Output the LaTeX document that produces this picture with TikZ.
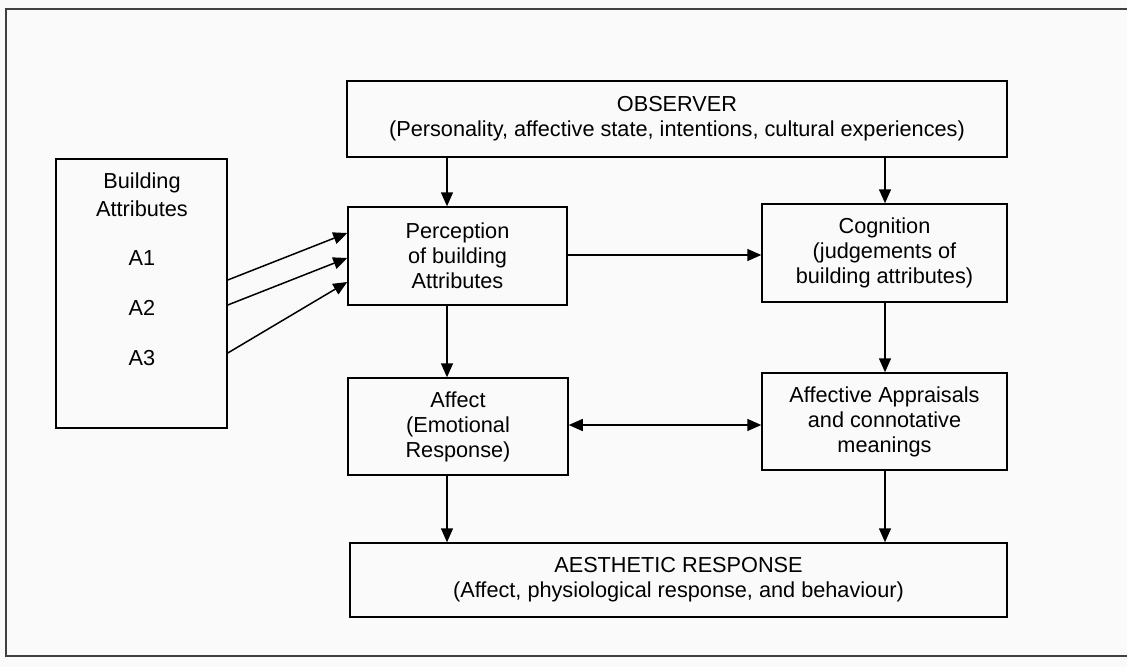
\documentclass[tikz,border=0pt]{standalone}
\usepackage{fontspec}
\setmainfont{Liberation Sans}
\usetikzlibrary{arrows.meta}
\tikzset{
  box/.style={draw, line width=1.5pt, rectangle, align=center, inner sep=0pt,
    font=\fontsize{21.7}{25}\selectfont},
  lbl/.style={inner sep=0pt, font=\fontsize{21.7}{25}\selectfont},
  arr/.style={line width=1.5pt, -{Triangle[length=14pt,width=12pt]}},
  biarr/.style={line width=1.5pt, {Triangle[length=14pt,width=12pt]}-{Triangle[length=14pt,width=12pt]}},
  frame/.style={line width=1.1pt, draw=black!75}
}
\begin{document}
\begin{tikzpicture}[x=1pt, y=-1pt]
\useasboundingbox[fill=black!2] (0,0) rectangle (1127,667);
% outer frame (open on the right)
\draw[frame] (1127,9) -- (6,9) -- (6,656) -- (1127,656);

% boxes
\node[box, minimum width=660pt, minimum height=76pt] (obs) at (677,119)
  {OBSERVER\\(Personality, affective state, intentions, cultural experiences)};
\node[box, minimum width=219pt, minimum height=98pt] (perc) at (457.5,256)
  {Perception\\of building\\Attributes};
\node[box, minimum width=245pt, minimum height=98pt] (cog) at (884.5,253)
  {Cognition\\(judgements of\\building attributes)};
\node[box, minimum width=220pt, minimum height=97pt] (aff) at (458,426.5)
  {Affect\\(Emotional\\Response)};
\node[box, minimum width=245pt, minimum height=97pt] (app) at (884.5,421.5)
  {Affective Appraisals\\and connotative\\meanings};
\node[box, minimum width=657pt, minimum height=74pt] (aes) at (678.5,580)
  {AESTHETIC RESPONSE\\(Affect, physiological response, and behaviour)};
\node[box, minimum width=171pt, minimum height=269pt] (bld) at (141.5,293.5) {};

% labels inside the building box
\node[lbl] (bt1) at (142,183) {Building};
\node[lbl] (bt2) at (142,209) {Attributes};
\node[lbl] (a1) at (142,258) {A1};
\node[lbl] (a2) at (142,308) {A2};
\node[lbl] (a3) at (142,358) {A3};

% connectors
\draw[arr] (obs.south -| 447,0) -- (perc.north -| 447,0);
\draw[arr] (obs.south -| 885,0) -- (cog.north -| 885,0);
\draw[arr] (perc.east |- 0,255) -- (cog.west |- 0,255);
\draw[arr] (perc.south -| 447,0) -- (aff.north -| 447,0);
\draw[arr] (cog.south -| 885,0) -- (app.north -| 885,0);
\draw[biarr] (aff.east |- 0,425) -- (app.west |- 0,425);
\draw[arr] (aff.south -| 447,0) -- (aes.north -| 447,0);
\draw[arr] (app.south -| 885,0) -- (aes.north -| 885,0);

\draw[arr] (bld.east |- 0,280) -- (perc.west |- 0,233);
\draw[arr] (bld.east |- 0,305) -- (perc.west |- 0,258);
\draw[arr] (bld.east |- 0,353) -- (perc.west |- 0,282);
\end{tikzpicture}
\end{document}
